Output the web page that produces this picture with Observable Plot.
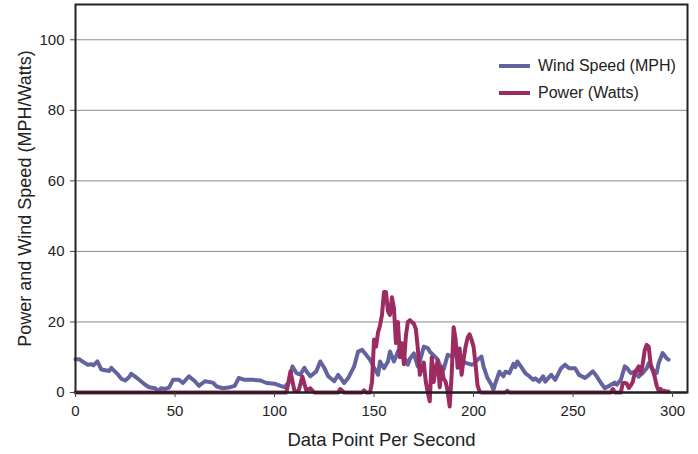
<!DOCTYPE html>
<html>
<head>
<meta charset="utf-8">
<script src="https://cdn.jsdelivr.net/npm/d3@7"></script>
<script src="https://cdn.jsdelivr.net/npm/@observablehq/plot@0.6"></script>
<style>
  html, body { margin: 0; padding: 0; background: #fff; }
  #wrap { position: relative; width: 698px; height: 454px; font-family: "Liberation Sans", Arial, sans-serif; color: #222; }
  .leg { position: absolute; left: 499px; font-size: 16px; line-height: 16px; display: flex; align-items: center; }
  .sw { width: 31px; height: 4px; margin-right: 8px; }
</style>
</head>
<body>
<div id="wrap"></div>
<script>
// Wind speed (MPH) samples: data point index and value
const windT = [0,2,4,6,8,9,11,13,15,17,18,21,23,25,27,28,30,32,35,37,40,42,43,45,47,49,52,54,57,60,62,65,69,71,74,77,80,82,85,89,93,96,100,103,105,107,109,111,113,115,116,118,121,123,125,127,130,132,135,137,140,142,144,146,148,150,152,153,155,157,158,160,162,163,165,167,168,170,172,173,175,177,178,180,182,183,185,187,189,190,192,194,196,199,200,202,204,205,207,209,210,211,213,215,216,218,220,221,222,224,226,228,230,231,233,235,236,239,241,244,246,248,251,253,256,258,260,262,264,266,269,271,272,274,276,277,279,281,283,285,287,288,290,292,293,295,297,298];
const windV = [9.4,9.4,8.6,7.9,8.0,7.7,8.8,6.5,6.3,6.1,7.0,5.3,3.9,3.4,4.4,5.3,4.5,3.6,2.2,1.5,1.2,0.4,1.2,1.0,1.4,3.6,3.6,2.7,4.6,3.2,1.9,3.2,2.8,1.7,1.2,1.4,1.9,4.1,3.6,3.6,3.4,2.7,2.5,1.9,1.5,2.7,7.4,5.5,5.1,7.0,6.0,4.6,6.0,8.8,7.0,4.6,3.2,5.0,2.7,4.1,7.4,11.6,12.1,10.7,9.3,7.0,5.0,8.8,6.9,8.8,11.6,8.8,11.6,12.6,10.2,7.9,9.5,11.1,7.4,8.8,13.0,12.6,11.6,10.5,9.3,7.9,6.5,10.7,10.2,11.1,9.8,9.0,8.4,7.9,8.0,9.3,10.2,7.4,4.1,2.2,0.8,2.7,5.9,4.6,5.9,5.5,8.1,7.2,8.8,7.2,5.5,4.6,3.6,4.0,3.1,4.6,3.1,5.0,3.6,6.9,7.9,6.9,6.9,5.0,4.1,5.0,6.0,4.5,2.7,1.2,2.2,2.8,2.2,3.6,7.4,7.0,5.5,5.9,4.5,5.5,6.9,8.3,6.4,5.5,8.3,11.2,9.7,9.3];

// Power (Watts) samples
const powerT = [0,106,108,110,112,114,116,118,120,132,133,135,144,145,146,148,149,150,151,152,153,154,155,156,157,158,159,160,161,162,163,164,165,166,167,168,169,170,171,172,173,174,175,176,177,178,179,180,181,182,183,184,185,186,187,188,189,190,191,192,193,194,195,196,197,198,199,200,201,202,203,204,216,217,218,269,270,271,274,275,276,277,278,279,280,281,282,283,284,285,286,287,288,289,290,291,292,293,294,295,296,297,298];
const powerV = [0,0,6,0.5,0.3,4.5,0.5,1.2,0,0,1.0,0,0,0.6,0,0,3,15,13,17,19,22,28.5,28.5,23,22,27,24,14,20,10,14,8,16,20,20.5,20,19.5,18,12.5,5,7,8.5,3,0,-2.5,10,3,7,9,1.5,7,4,3,0.3,-4,5,18.5,15,7,12.5,5,9.5,13,15.5,16.5,15,13,8,2,0.3,0,0,0.5,0,0,1.0,0,0,2.7,2.7,2.5,1.3,2,3,5.5,6.5,7.4,5.5,8,12,13.5,13,8,6.4,4.5,2,0.5,1,0.3,0.5,0.2,0.3];

const yTicks = [0, 20, 40, 60, 80, 100];
const xTicks = [0, 50, 100, 150, 200, 250, 300];
const series = [
  {name: "Wind Speed (MPH)", color: "#62639f"},
  {name: "Power (Watts)", color: "#9c2b62"}
];

const wind = windT.map((t, i) => ({t, v: windV[i]}));
const power = powerT.map((t, i) => ({t, v: powerV[i]}));

const chart = Plot.plot({
  width: 698,
  height: 454,
  marginLeft: 75,
  marginRight: 11,
  marginTop: 4,
  marginBottom: 62,
  style: {fontFamily: "'Liberation Sans', Arial, sans-serif", color: "#222", background: "#fff"},
  x: {domain: [0, 307.5]},
  y: {domain: [0, 110]},
  marks: [
    Plot.gridY([20, 40, 60, 80, 100], {stroke: "#8a8a8a", strokeOpacity: 1, strokeWidth: 1}),
    Plot.line(wind, {x: "t", y: "v", stroke: series[0].color, strokeWidth: 4, curve: "linear"}),
    Plot.line(power, {x: "t", y: "v", stroke: series[1].color, strokeWidth: 4, curve: "linear"}),
    Plot.ruleY([0], {stroke: "#111", strokeWidth: 2}),
    Plot.frame({stroke: "#222", strokeWidth: 2}),
    Plot.axisY({ticks: yTicks, tickSize: 5, tickPadding: 6, fontSize: 15, label: null, stroke: "#444"}),
    Plot.axisX({ticks: xTicks, tickSize: 5, tickPadding: 8, fontSize: 15, label: null, stroke: "#444"}),
    Plot.text(["Power and Wind Speed (MPH/Watts)"], {frameAnchor: "left", textAnchor: "middle", lineAnchor: "middle", rotate: -90, dx: -50, fontSize: 18, fill: "#222"}),
    Plot.text(["Data Point Per Second"], {frameAnchor: "bottom", textAnchor: "middle", lineAnchor: "middle", dy: 48, fontSize: 18.5, fill: "#222"})
  ]
});

const wrap = document.getElementById("wrap");
wrap.appendChild(chart);
series.forEach((s, i) => {
  const d = document.createElement("div");
  d.className = "leg";
  d.style.top = (58 + i * 27) + "px";
  const sw = document.createElement("span");
  sw.className = "sw";
  sw.style.background = s.color;
  const tx = document.createElement("span");
  tx.textContent = s.name;
  d.appendChild(sw);
  d.appendChild(tx);
  wrap.appendChild(d);
});
</script>
</body>
</html>
